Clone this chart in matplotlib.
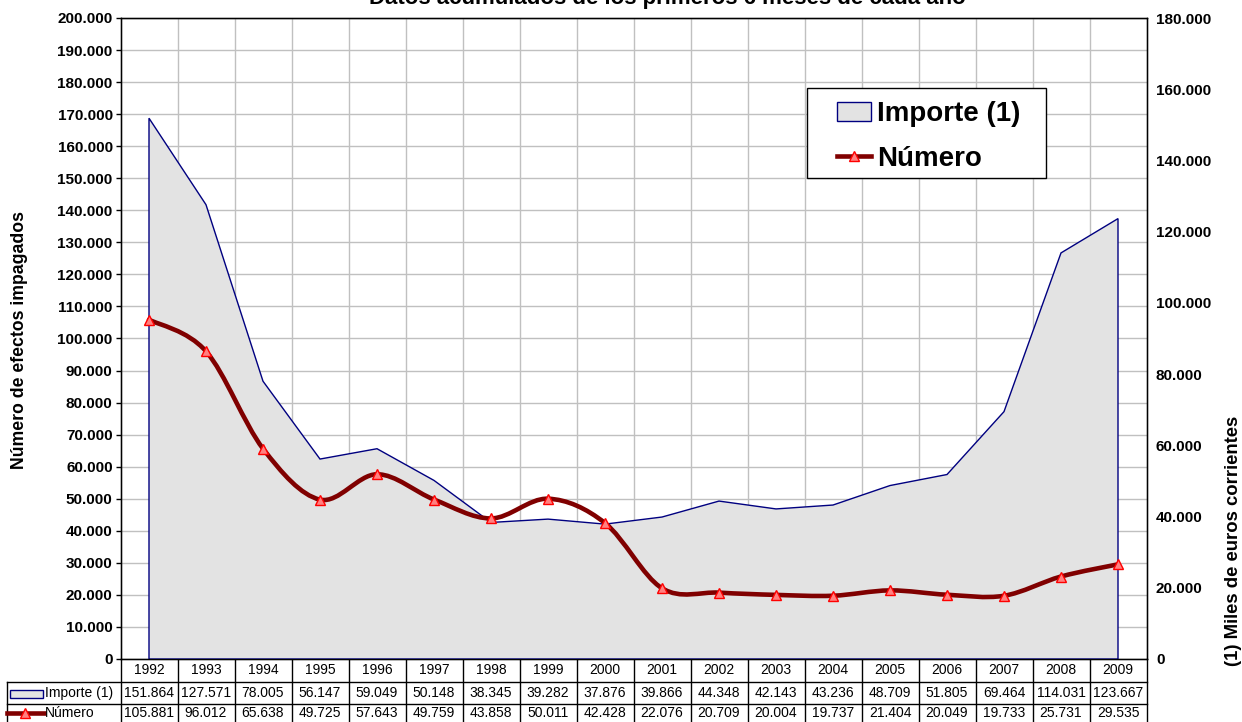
import numpy as np
import matplotlib.pyplot as plt
from matplotlib.path import Path
from matplotlib.patches import PathPatch, Patch, Rectangle
from matplotlib.lines import Line2D
from matplotlib.transforms import blended_transform_factory

plt.rcParams['font.family'] = ['Liberation Sans', 'DejaVu Sans']

years = [1992, 1993, 1994, 1995, 1996, 1997, 1998, 1999, 2000,
         2001, 2002, 2003, 2004, 2005, 2006, 2007, 2008, 2009]
importe = [151864, 127571, 78005, 56147, 59049, 50148, 38345, 39282, 37876,
           39866, 44348, 42143, 43236, 48709, 51805, 69464, 114031, 123667]
numero = [105881, 96012, 65638, 49725, 57643, 49759, 43858, 50011, 42428,
          22076, 20709, 20004, 19737, 21404, 20049, 19733, 25731, 29535]

title = "Datos acumulados de los primeros 6 meses de cada año"
left_label = "Número de efectos impagados"
right_label = "(1) Miles de euros corrientes"
series_names = ["Importe (1)", "Número"]

AREA_FC = '#E3E3E3'
AREA_EC = '#000080'
LINE_C = '#800000'
MK_FC = '#FF8080'
MK_EC = '#FF0000'
GRID_C = '#C0C0C0'


def fmt(v):
    return f"{v:,}".replace(",", ".")


W, H = 1242, 722
L, R, T, B = 120.5, 1146.5, 18, 659
fig = plt.figure(figsize=(W / 100, H / 100), dpi=100)
ax = fig.add_axes([L / W, 1 - B / H, (R - L) / W, (B - T) / H])
ax2 = ax.twinx()
ax3 = ax.twinx()

n = len(years)
x = np.arange(n)
ax.set_xlim(-0.5, n - 0.5)

# left axis: grid + ticks
ax.set_ylim(0, 200000)
lt = np.arange(0, 200001, 10000)
ax.set_yticks(lt)
ax.set_yticklabels([fmt(v) for v in lt], fontweight='bold', fontsize=11)
ax.tick_params(axis='y', length=3.6, width=1, pad=2)
ax.set_xticks(np.arange(0.5, n - 1, 1))
ax.tick_params(axis='x', length=0, labelbottom=False)
ax.grid(True, color=GRID_C, lw=1)
for s in ax.spines.values():
    s.set_color('black')
    s.set_linewidth(1)

# right axis: area
ax2.set_ylim(0, 180000)
rt = np.arange(0, 180001, 20000)
ax2.set_yticks(rt)
ax2.set_yticklabels([fmt(v) for v in rt], fontweight='bold', fontsize=11)
ax2.tick_params(axis='y', length=0, pad=6.8)
ax2.fill(np.r_[x[0], x, x[-1]], np.r_[0, importe, 0],
         facecolor=AREA_FC, edgecolor=AREA_EC, lw=1)

# smoothed line on left scale
ax3.set_ylim(0, 200000)
ax3.set_yticks([])
ax3.tick_params(right=False, labelright=False)
pts = np.column_stack([x.astype(float), np.array(numero, float)])
ext = np.vstack([pts[0], pts, pts[-1]])
verts = [pts[0]]
codes = [Path.MOVETO]
for i in range(n - 1):
    p0, p1, p2, p3 = ext[i], ext[i + 1], ext[i + 2], ext[i + 3]
    verts += [p1 + (p2 - p0) / 6, p2 - (p3 - p1) / 6, p2]
    codes += [Path.CURVE4] * 3
ax3.add_patch(PathPatch(Path(verts, codes), fill=False, edgecolor=LINE_C,
                        lw=3.3, capstyle='round', joinstyle='round'))
ax3.plot(x, numero, ls='none', marker='^', ms=7, mfc=MK_FC, mec=MK_EC, mew=1)

# titles
fig.text(369 / W, 1 - 4.3 / H, title, ha='left', va='baseline',
         fontsize=16, fontweight='bold')
fig.text(20 / W, 1 - 340 / H, left_label, rotation=90, ha='center',
         va='center', fontsize=12.7, fontweight='bold')
fig.text(1233 / W, 1 - 541 / H, right_label, rotation=90, ha='center',
         va='center', fontsize=13.3, fontweight='bold')

# legend
fig.patches.append(Rectangle((807 / W, 1 - 178 / H), 239 / W, 90 / H,
                             transform=fig.transFigure, facecolor='white',
                             edgecolor='black', lw=1, zorder=4))
h1 = Patch(facecolor=AREA_FC, edgecolor=AREA_EC, lw=1)
h2 = Line2D([], [], color=LINE_C, lw=3.3, marker='^', ms=7,
            mfc=MK_FC, mec=MK_EC, mew=1)
fig.legend([h1, h2], series_names, loc='upper left',
           bbox_to_anchor=(837 / W, 1 - 101 / H), bbox_transform=fig.transFigure,
           frameon=False, borderpad=0, borderaxespad=0, handlelength=1.22,
           handleheight=0.66, handletextpad=0.22, labelspacing=0.67,
           prop=dict(weight='bold', size=20)).set_zorder(5)

# data table
cw = (R - L) / n
ph = B - T
tr = blended_transform_factory(ax.transData, ax.transAxes)
rh = 22.5 / ph
xl = -0.5 - (L - 7) / cw
kw = dict(transform=tr, clip_on=False, color='black', lw=1)
for k in range(n + 1):
    ax.plot([k - 0.5, k - 0.5], [0, -3 * rh], **kw)
ax.plot([xl, xl], [-rh, -3 * rh], **kw)
ax.plot([xl, n - 0.5], [-rh, -rh], **kw)
ax.plot([xl, n - 0.5], [-2 * rh, -2 * rh], **kw)
for i in range(n):
    ax.text(i, -0.5 * rh, str(years[i]), transform=tr, ha='center',
            va='center', fontsize=10)
    ax.text(i, -1.5 * rh, fmt(importe[i]), transform=tr, ha='center',
            va='center', fontsize=10)
    ax.text(i, -2.5 * rh + 2 / ph, fmt(numero[i]), transform=tr, ha='center',
            va='center', fontsize=10)
tx = -0.5 - (L - 45) / cw
ax.text(tx, -1.5 * rh, series_names[0], transform=tr, ha='left',
        va='center', fontsize=10)
ax.text(tx, -2.5 * rh + 2 / ph, series_names[1], transform=tr, ha='left',
        va='center', fontsize=10)
ax.add_patch(Rectangle((-0.5 - (L - 10) / cw, (B - 698) / ph), 33 / cw,
                       8 / ph, transform=tr, clip_on=False,
                       facecolor=AREA_FC, edgecolor=AREA_EC, lw=1))
ky = (B - 713) / ph
ax.plot([-0.5 - (L - 7) / cw, -0.5 - (L - 44) / cw], [ky, ky], transform=tr,
        clip_on=False, color=LINE_C, lw=3.3)
ax.plot([-0.5 - (L - 25.5) / cw], [ky], transform=tr, clip_on=False,
        ls='none', marker='^', ms=7, mfc=MK_FC, mec=MK_EC, mew=1)

fig.savefig('out.png', dpi=100)
